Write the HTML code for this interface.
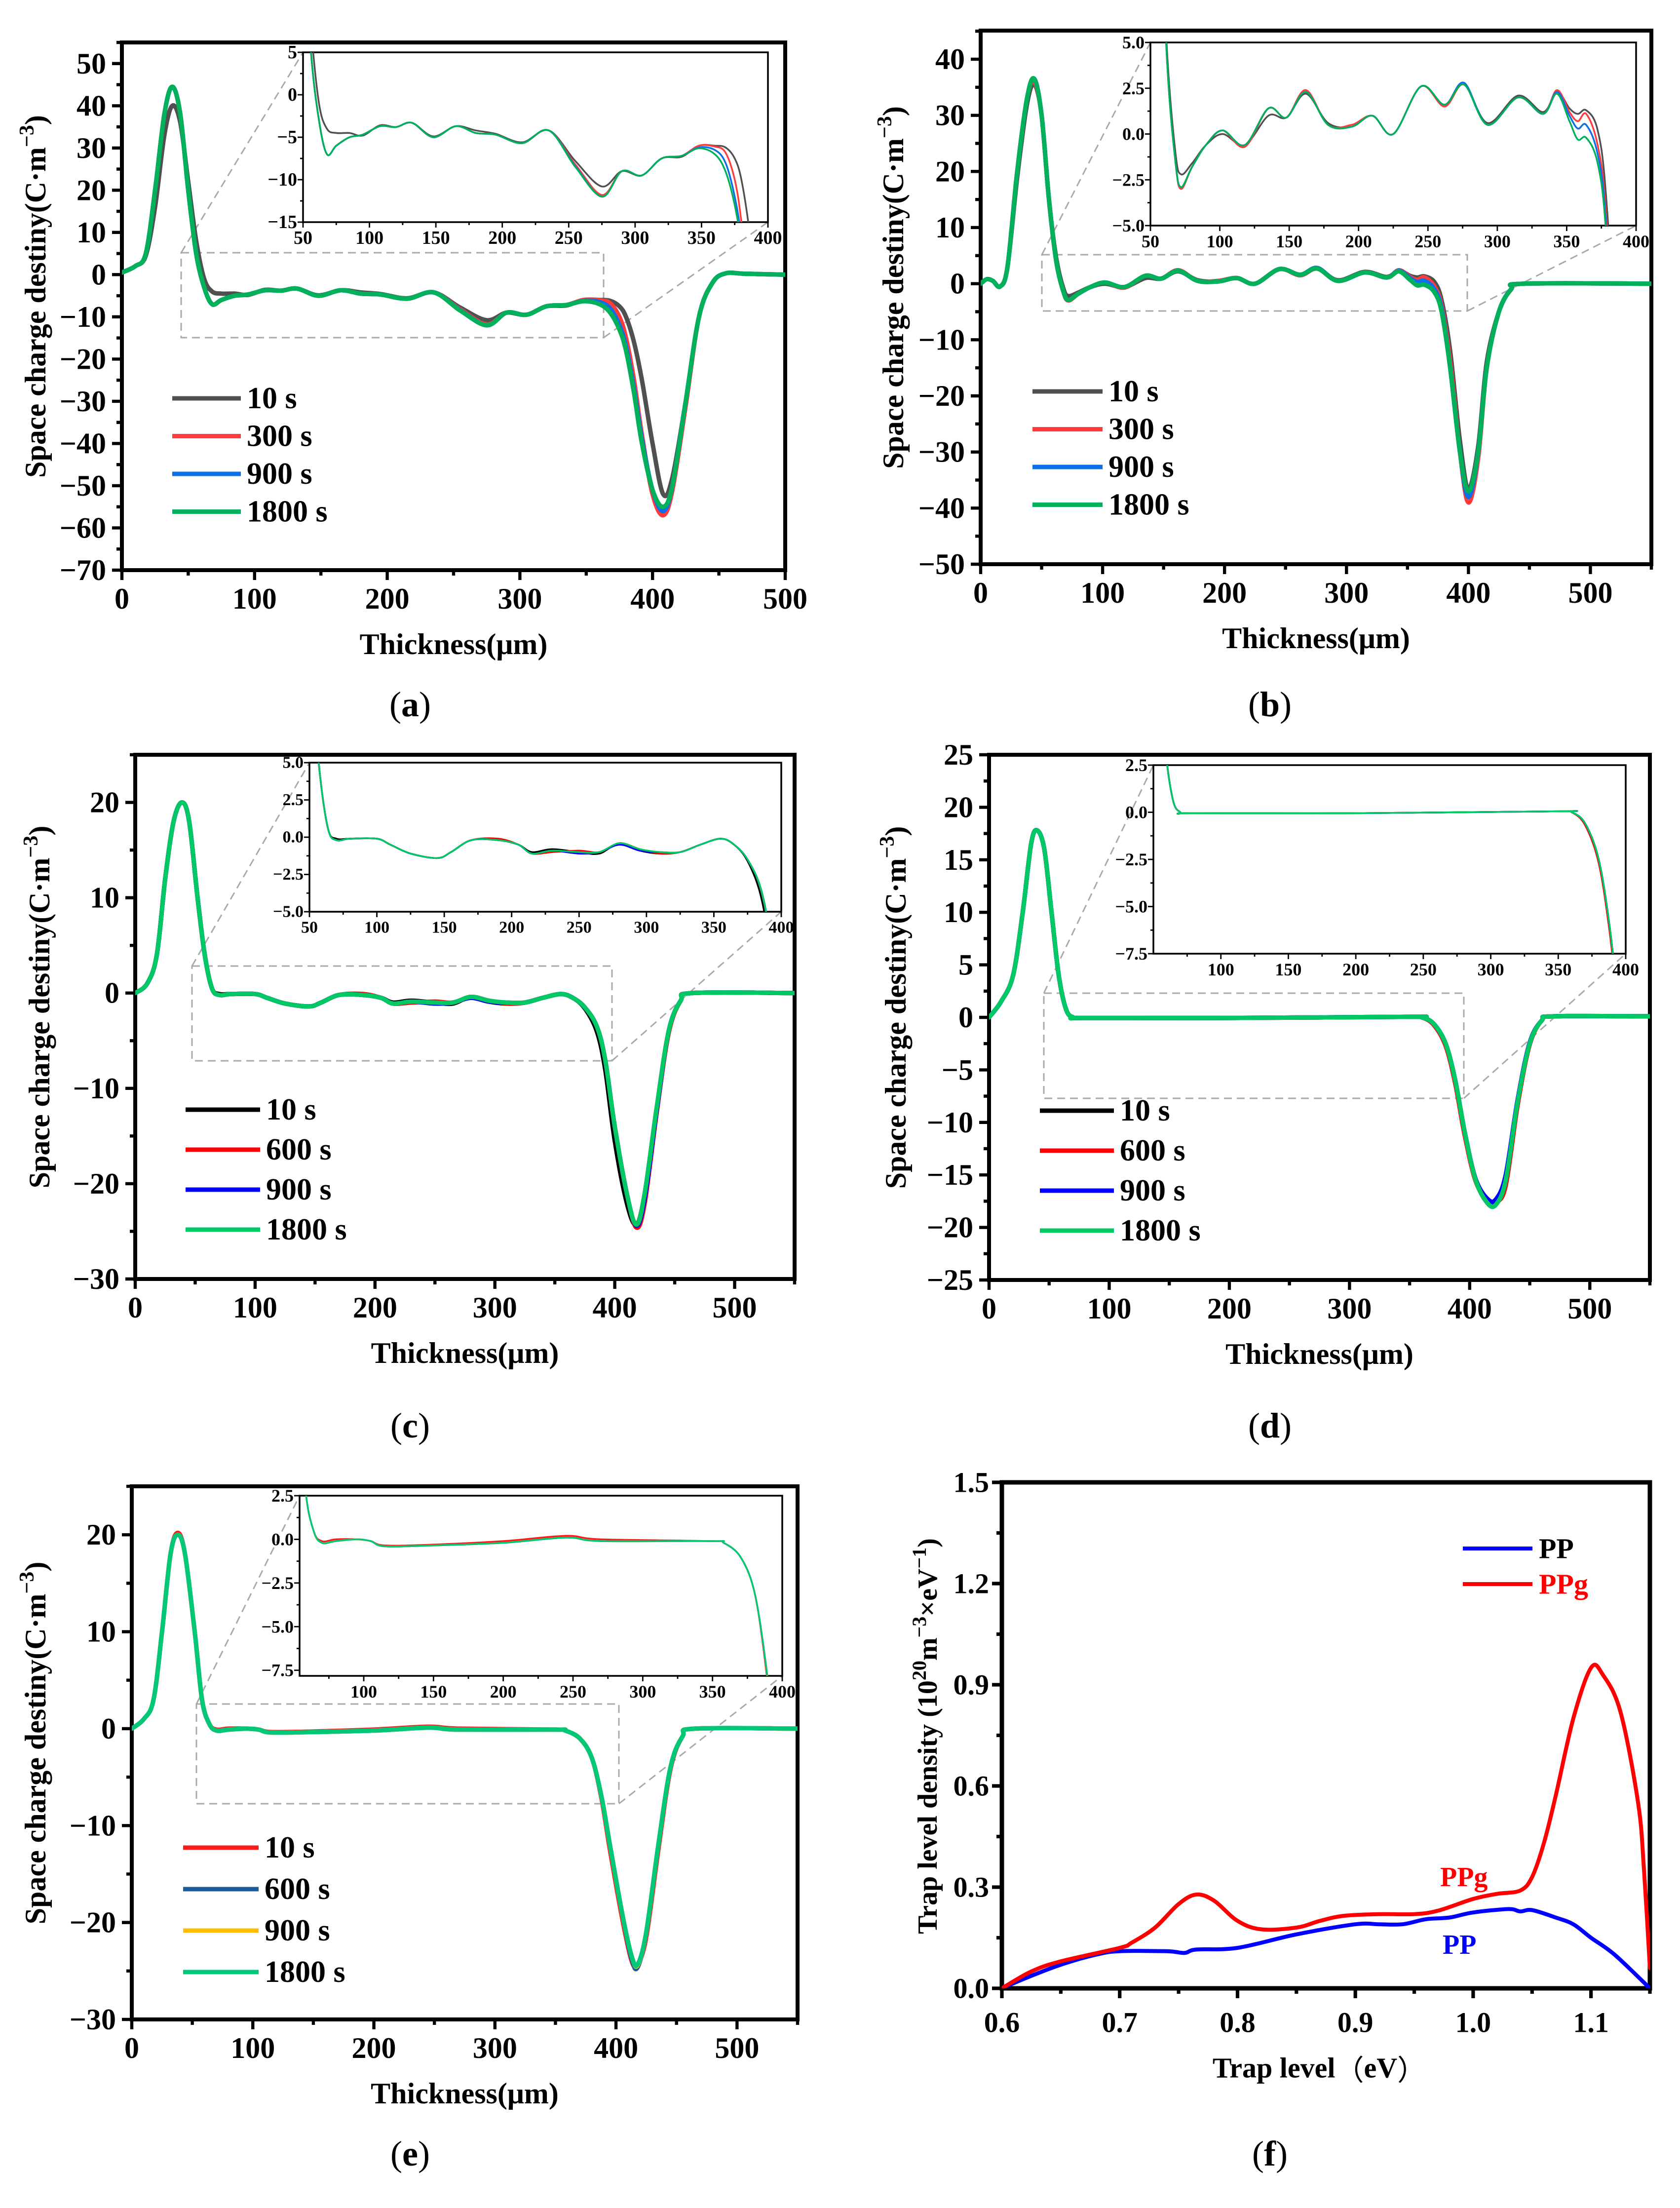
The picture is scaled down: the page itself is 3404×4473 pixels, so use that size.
<!DOCTYPE html>
<html><head><meta charset="utf-8"><style>
html,body{margin:0;padding:0;background:#fff;}
svg{display:block;}
text{font-family:"Liberation Serif",serif;font-weight:bold;fill:#000;}
</style></head><body>
<svg id="fig" xmlns="http://www.w3.org/2000/svg" width="3404" height="4473" viewBox="0 0 3404 4473">
<rect x="0" y="0" width="3404" height="4473" fill="#fff"/>
</svg>
<script>
// ---------- DATA ----------
const xa = [0,10,18,25,32,38,44,50,56,62,68,75,85,95,108,120,132,148,165,180,195,215,235,255,275,290,305,320,335,348,360,368,375,380,386,392,400,408,415,425,435,445,455,470,500];
const a10 = [0.5,2,4.5,16,33,40,36,22,8,-1,-4,-4.5,-4.5,-4.8,-3.6,-3.8,-3.3,-4.9,-3.7,-4.2,-4.6,-5.6,-4.2,-7.8,-10.8,-9,-9.5,-7.5,-7.3,-6,-6,-6.2,-7.5,-10,-16,-25,-40,-52,-48,-30,-10,-2,0.3,0.2,0];
const a300 = [0.5,2,5,20,38,44.5,38,20,5,-3,-7,-6,-5,-4.7,-3.7,-3.8,-3.3,-5,-3.7,-4.5,-4.7,-5.7,-4.2,-8.2,-11.8,-9,-9.5,-7.5,-7.2,-6,-6.1,-6.8,-10,-15,-25,-38,-52,-57,-51,-31,-10,-2,0.3,0.2,0];
const a900 = [0.5,2,5,20,38,44.5,38,20,5,-3,-7,-6,-5,-4.7,-3.7,-3.8,-3.3,-5,-3.7,-4.5,-4.7,-5.7,-4.2,-8.4,-12,-9,-9.5,-7.5,-7.2,-6.2,-6.5,-8,-12,-17,-27,-39,-51,-56,-50,-30,-10,-2,0.3,0.2,0];
const a1800 = [0.5,2,5,20,38,44.5,38,20,5,-3,-7,-6,-5,-4.7,-3.7,-3.8,-3.3,-5,-3.7,-4.5,-4.7,-5.7,-4.2,-8.5,-12,-9,-9.5,-7.5,-7.2,-6.3,-7,-9,-13,-18,-28,-40,-51,-55,-50,-30,-10,-2,0.3,0.2,0];

const xb = [0,5,10,16,22,30,38,44,50,56,62,68,72,80,90,102,118,135,148,162,178,195,210,225,245,262,276,293,315,333,343,352,358,364,372,378,385,393,400,408,415,425,435,445,550];
const b10 = [0,0.8,0.5,-0.5,3,19,32,35.5,30,15,4.5,-1,-2.2,-1.6,-0.6,0,-0.6,1,0.9,2.2,0.6,0.4,1,0,2.6,1.6,2.7,0.6,2.1,1.2,2.3,1.4,1.1,1.3,0.3,-3,-12,-28,-36.5,-29,-14,-5,-1,0,0];
const b300 = [0,0.8,0.5,-0.5,3,20,33,36,30,15,4,-1.5,-3,-1.8,-0.6,0.2,-0.7,1.4,0.9,2.4,0.5,0.5,1,0,2.6,1.5,2.7,0.5,2,1.1,2.4,1.2,0.7,1.1,-0.5,-4,-14,-30,-39,-31,-15,-5,-1,0,0];
const b900 = [0,0.8,0.5,-0.5,3,20,33,36.5,30,15,4,-1.5,-2.9,-1.8,-0.6,0.2,-0.6,1.4,0.9,2.3,0.5,0.4,1,0,2.6,1.6,2.8,0.5,2,1.1,2.3,1,0.3,0.5,-1,-4.5,-15,-30,-38,-30,-15,-5,-1,0,0];
const b1800 = [0,0.8,0.5,-0.5,3,20,33,36.5,30,15,4,-1.5,-2.9,-1.8,-0.6,0.2,-0.6,1.4,0.9,2.3,0.5,0.4,1,0,2.6,1.6,2.7,0.5,2,1.1,2.2,0.7,-0.3,-0.2,-1.5,-5,-15,-30,-37,-30,-15,-5,-1,0,0];

const xc = [0,10,18,25,32,39,45,52,58,64,70,80,100,110,125,145,155,170,190,205,215,230,250,265,280,295,310,325,340,355,365,375,385,392,400,410,418,425,435,445,455,465,550];
const c10 = [0,1,4,12,18,20,18,10,4,0.5,-0.1,-0.1,-0.1,-0.5,-1.1,-1.4,-1,-0.2,-0.2,-0.5,-1,-0.8,-1,-1.1,-0.4,-0.9,-1.1,-1,-0.5,-0.1,-0.5,-1.6,-4,-8,-15.5,-22,-24.3,-21,-12,-4,-0.8,0,0];
const c600 = [0,1,4,12,18,20,18,10,4,0.5,-0.2,-0.1,-0.1,-0.5,-1.1,-1.4,-1,-0.2,-0.1,-0.5,-1.1,-1,-0.9,-1,-0.4,-0.8,-1.1,-1,-0.5,-0.1,-0.5,-1.5,-3.5,-7,-14,-21,-24.6,-22,-12.5,-4.2,-0.8,0,0];
const c900 = [0,1,4,12,18,20,18,10,4,0.5,-0.2,-0.1,-0.1,-0.5,-1.1,-1.4,-1,-0.2,-0.2,-0.5,-1.1,-0.9,-1.1,-1,-0.5,-0.9,-1,-1,-0.5,-0.1,-0.5,-1.5,-3.5,-7,-14,-21,-24.4,-21.5,-12.3,-4,-0.8,0,0];
const c1800 = [0,1,4,12,18,20,18,10,4,0.5,-0.2,-0.1,-0.1,-0.5,-1.1,-1.4,-1,-0.2,-0.2,-0.5,-1.1,-0.9,-1,-1,-0.4,-0.8,-1,-1,-0.5,-0.1,-0.5,-1.5,-3.5,-7,-14,-21,-24.3,-21,-12,-4,-0.8,0,0];

const xd = [0,10,20,28,35,40,46,52,58,64,70,80,200,350,360,370,380,388,396,405,415,422,430,440,450,460,470,550];
const d10 = [0,1.5,4,10,16.5,17.8,16,10,4,0.8,0,-0.05,-0.05,0.05,0,-0.6,-2.5,-6,-11,-15.5,-17.7,-17.8,-15.5,-8,-2.5,-0.3,0.1,0.1];
const d600 = [0,1.5,4,10,16.5,17.8,16,10,4,0.8,0,-0.05,-0.05,0.05,0,-0.7,-2.7,-6.3,-11.3,-15.6,-17.5,-17.6,-16,-8.3,-2.6,-0.3,0.1,0.1];
const d900 = [0,1.5,4,10,16.5,17.8,16,10,4,0.8,0,-0.05,-0.05,0.05,0,-0.6,-2.5,-6,-11,-15.4,-17.3,-17.3,-15,-7.8,-2.4,-0.3,0.1,0.1];
const d1800 = [0,1.5,4,10,16.5,17.8,16,10,4,0.8,0,-0.05,-0.05,0.05,0,-0.6,-2.5,-6,-11,-15.5,-17.7,-17.8,-15.5,-8,-2.5,-0.3,0.1,0.1];

const xe = [0,10,18,25,32,38,44,52,58,64,70,80,95,105,115,150,200,245,270,350,358,370,380,388,395,405,413,418,425,435,445,455,465,550];
const e10 = [0,1,3,10,18,20.2,18,10,3,0.5,-0.1,0,0,-0.1,-0.35,-0.3,-0.1,0.2,0,-0.1,-0.2,-1,-3,-7.2,-12.5,-19.5,-24,-24.3,-21.5,-12.5,-4.2,-0.8,0,0];
const e600 = [0,1,3,10,18,20,18,10,3,0.5,-0.2,-0.1,0,-0.1,-0.4,-0.35,-0.2,0.1,-0.1,-0.1,-0.2,-1,-3,-7,-12,-19,-23.8,-24.6,-21,-12,-4,-0.8,0,0];
const e900 = [0,1,3,10,18,20,18,10,3,0.5,-0.2,-0.1,0,-0.1,-0.4,-0.35,-0.2,0.1,-0.1,-0.1,-0.2,-1,-3,-7,-12,-19,-23.5,-24.4,-21,-12,-4,-0.8,0,0];
const e1800 = [0,1,3,10,18,20,18,10,3,0.5,-0.2,-0.1,0,-0.1,-0.4,-0.35,-0.2,0.1,-0.1,-0.1,-0.2,-1,-3,-7,-12,-19,-23.5,-24.3,-21,-12,-4,-0.8,0,0];

const fxPP = [0.6,0.62,0.65,0.68,0.7,0.74,0.755,0.765,0.8,0.85,0.9,0.92,0.94,0.96,0.98,1.0,1.03,1.04,1.05,1.07,1.085,1.1,1.12,1.15];
const fyPP = [0,0.03,0.07,0.1,0.11,0.11,0.105,0.115,0.12,0.16,0.19,0.19,0.19,0.205,0.21,0.225,0.235,0.228,0.232,0.21,0.19,0.15,0.1,0];
const fxPPg = [0.6,0.625,0.65,0.7,0.71,0.73,0.75,0.765,0.78,0.8,0.82,0.85,0.87,0.89,0.92,0.95,0.97,1.0,1.02,1.04,1.05,1.06,1.07,1.085,1.1,1.11,1.125,1.14,1.145,1.15];
const fyPPg = [0,0.05,0.08,0.12,0.135,0.18,0.25,0.278,0.26,0.2,0.175,0.18,0.2,0.215,0.22,0.22,0.23,0.265,0.28,0.29,0.33,0.43,0.57,0.8,0.95,0.93,0.82,0.55,0.35,0.06];

const legendAB = ["10 s","300 s","900 s","1800 s"];
const legendCDE = ["10 s","600 s","900 s","1800 s"];

// ---------- DRAWING ----------
const NS = "http://www.w3.org/2000/svg";
const svg = document.getElementById("fig");
function el(tag, attrs, parent){ const e=document.createElementNS(NS,tag); for(const k in attrs) e.setAttribute(k,attrs[k]); (parent||svg).appendChild(e); return e; }
function fmt(v,dec){ const s=Math.abs(v).toFixed(dec); return (v<0?"\u2212":"")+s; }
function crPath(pts){
  let d="M"+pts[0][0].toFixed(1)+","+pts[0][1].toFixed(1);
  for(let i=0;i<pts.length-1;i++){
    const p0=pts[i-1]||pts[i], p1=pts[i], p2=pts[i+1], p3=pts[i+2]||pts[i+1];
    const c1=[p1[0]+(p2[0]-p0[0])/6, p1[1]+(p2[1]-p0[1])/6];
    const c2=[p2[0]-(p3[0]-p1[0])/6, p2[1]-(p3[1]-p1[1])/6];
    d+="C"+c1[0].toFixed(1)+","+c1[1].toFixed(1)+" "+c2[0].toFixed(1)+","+c2[1].toFixed(1)+" "+p2[0].toFixed(1)+","+p2[1].toFixed(1);
  }
  return d;
}
let clipN=0;
function axes(g, box, xr, yr, xt, yt, opt){
  const sx=v=>box.l+(v-xr[0])/(xr[1]-xr[0])*(box.r-box.l);
  const sy=v=>box.b-(v-yr[0])/(yr[1]-yr[0])*(box.b-box.t);
  const r=el("rect",{x:box.l,y:box.t,width:box.r-box.l,height:box.b-box.t,fill:"none",stroke:"#000","stroke-width":opt.sw},g);
  
  
  xt.forEach(v=>{
    const x=sx(v);
    const t=el("line",{x1:x,y1:box.b,x2:x,y2:box.b+opt.tl,stroke:"#000","stroke-width":opt.sw*0.8},g);
    
    
    const tx=el("text",{x:x,y:box.b+opt.xlo,"font-size":opt.fs,"text-anchor":"middle","dominant-baseline":"central"},g);
    tx.textContent=opt.xLabel(v);
    
    
  });
  (opt.xminor||[]).forEach(v=>{
    const x=sx(v);
    const t=el("line",{x1:x,y1:box.b,x2:x,y2:box.b+opt.tl*0.55,stroke:"#000","stroke-width":opt.sw*0.8},g);
    
    
  });
  yt.forEach(v=>{
    const y=sy(v);
    const t=el("line",{x1:box.l,y1:y,x2:box.l-opt.tl,y2:y,stroke:"#000","stroke-width":opt.sw*0.8},g);
    
    
    const tx=el("text",{x:box.l-opt.ylo,y:y,"font-size":opt.fs,"text-anchor":"end","dominant-baseline":"central"},g);
    tx.textContent=opt.yLabel(v);
    
    
  });
  (opt.yminor||[]).forEach(v=>{
    const y=sy(v);
    const t=el("line",{x1:box.l,y1:y,x2:box.l-opt.tl*0.55,y2:y,stroke:"#000","stroke-width":opt.sw*0.8},g);
    
    
  });
  return {sx,sy};
}
function series(g, box, sc, xs, ys, color, w, name){
  const id="clip"+(clipN++);
  const cp=el("clipPath",{id:id},g);
  el("rect",{x:box.l,y:box.t,width:box.r-box.l,height:box.b-box.t},cp);
  const pts=xs.map((x,i)=>[sc.sx(x),sc.sy(ys[i])]);
  const p=el("path",{d:crPath(pts),fill:"none",stroke:color,"stroke-width":w,"stroke-linejoin":"round","stroke-linecap":"round","clip-path":"url(#"+id+")"},g);
  
  
}
function range(a,b,s){const r=[];for(let v=a;v<=b+1e-9;v+=s)r.push(+v.toFixed(4));return r;}

function chargePanel(P){
  const g=el("g",{});
  
  
  const sc=axes(g,P.box,P.xr,P.yr,range(0,500,100),P.yt,{sw:8,tl:20,fs:60,xlo:58,ylo:32,prefix:'main-',
    xLabel:v=>String(v),yLabel:v=>fmt(v,0),xminor:range(50,P.xr[1],100),yminor:P.ym});
  const D=P.dash, I=P.ibox;
  const dr=el("rect",{x:D[0],y:D[1],width:D[2]-D[0],height:D[3]-D[1],fill:"none",stroke:"#aaa","stroke-width":3,"stroke-dasharray":"16,10"},g);
  
  
  const c1=el("line",{x1:D[0],y1:D[1],x2:I.l,y2:I.t,stroke:"#aaa","stroke-width":3,"stroke-dasharray":"16,10"},g);
  
  
  const c2=el("line",{x1:D[2],y1:D[3],x2:I.r,y2:I.b,stroke:"#aaa","stroke-width":3,"stroke-dasharray":"16,10"},g);
  
  
  P.series.forEach((s,i)=>series(g,P.box,sc,P.xs,s,P.colors[i],9,'series-'+P.labels[i].replace(' ','')));
  const ig=el("g",{},g);
  
  
  el("rect",{x:I.l,y:I.t,width:I.r-I.l,height:I.b-I.t,fill:"#fff"},ig);
  const isc=axes(ig,I,P.ixr,P.iyr,P.ixt,P.iyt,{sw:3.5,tl:11,fs:P.ifs,xlo:32,ylo:12,prefix:'inset-',
    xLabel:v=>String(v),yLabel:P.iyLabel,xminor:P.ixm,yminor:P.iym});
  P.series.forEach((s,i)=>series(ig,I,isc,P.xs,s,P.colors[i],3.5,'inset-series-'+P.labels[i].replace(' ','')));
  P.labels.forEach((lab,i)=>{
    const y=P.leg[2]+i*P.leg[3];
    const l=el("line",{x1:P.leg[0],y1:y,x2:P.leg[1],y2:y,stroke:P.colors[i],"stroke-width":9},g);
    
    
    const t=el("text",{x:P.leg[1]+12,y:y,"font-size":62,"dominant-baseline":"central"},g);
    t.textContent=lab;
    
    
  });
  const b=P.box;
  const yt=el("text",{x:0,y:0,"font-size":60,"text-anchor":"middle","transform":"translate("+P.ytx+","+((b.t+b.b)/2-20)+") rotate(-90)"},g);
  yt.innerHTML='Space charge destiny(C·m<tspan dy="-24" font-size="42">\u22123</tspan><tspan dy="24">)</tspan>';
  
  
  const xt=el("text",{x:(b.l+b.r)/2,y:b.b+150,"font-size":60,"text-anchor":"middle","dominant-baseline":"central"},g);
  xt.textContent="Thickness(\u03bcm)";
  
  
  const pl=el("text",{x:P.lab[0],y:P.lab[1],"font-size":72,"text-anchor":"middle","dominant-baseline":"central"},g);
  pl.innerHTML='<tspan font-weight="normal">(</tspan>'+P.id+'<tspan font-weight="normal">)</tspan>';
  
  
}
const colAB=["#505050","#ff3b3b","#0a6fe8","#00b05a"];
const colCD=["#000000","#ff0000","#0000ff","#00c864"];
const colE=["#ff1a1a","#1a5c9c","#ffc000","#00c878"];
const lab1=v=>fmt(v,0), lab2=v=>fmt(v,1);

chargePanel({id:'a',box:{l:247,r:1591,t:86,b:1155},xr:[0,500],yr:[-70,55],yt:range(-70,50,10),ym:range(-65,55,10),
  dash:[367,512,1223,684],ibox:{l:614,r:1556,t:106,b:450},ixr:[50,400],iyr:[-15,5],ixt:range(50,400,50),iyt:[5,0,-5,-10,-15],ixm:range(75,375,50),iym:range(-12.5,2.5,5),ifs:38,iyLabel:lab1,
  xs:xa,series:[a10,a300,a900,a1800],colors:colAB,labels:legendAB,leg:[349,488,807,76.5],ytx:92,lab:[831,1427]});
chargePanel({id:'b',box:{l:1987,r:3346,t:62,b:1143},xr:[0,550],yr:[-50,45.1],yt:range(-50,40,10),ym:range(-45,45,10),
  dash:[2111,516,2973,630],ibox:{l:2331,r:3315,t:86,b:457},ixr:[50,400],iyr:[-5,5],ixt:range(50,400,50),iyt:[5,2.5,0,-2.5,-5],ixm:range(75,375,50),iym:range(-3.75,3.75,2.5),ifs:36,iyLabel:lab2,
  xs:xb,series:[b10,b300,b900,b1800],colors:colAB,labels:legendAB,leg:[2092,2234,793,76.5],ytx:1830,lab:[2573,1427]});
chargePanel({id:'c',box:{l:274,r:1610,t:1529,b:2591},xr:[0,550],yr:[-30,25],yt:range(-30,20,10),ym:range(-25,25,10),
  dash:[389,1957,1240,2149],ibox:{l:627,r:1583,t:1545,b:1847},ixr:[50,400],iyr:[-5,5],ixt:range(50,400,50),iyt:[5,2.5,0,-2.5,-5],ixm:range(75,375,50),iym:range(-3.75,3.75,2.5),ifs:34,iyLabel:lab2,
  xs:xc,series:[c10,c600,c900,c1800],colors:colCD,labels:legendCDE,leg:[376,527,2248,81],ytx:100,lab:[831,2888]});
chargePanel({id:'d',box:{l:2004,r:3343,t:1529,b:2593},xr:[0,550],yr:[-25,25],yt:range(-25,25,5),ym:range(-22.5,22.5,5),
  dash:[2115,2012,2966,2225],ibox:{l:2337,r:3294,t:1550,b:1932},ixr:[50,400],iyr:[-7.5,2.5],ixt:range(100,400,50),iyt:[2.5,0,-2.5,-5,-7.5],ixm:range(75,375,50),iym:range(-6.25,1.25,2.5),ifs:36,iyLabel:lab2,
  xs:xd,series:[d10,d600,d900,d1800],colors:colCD,labels:legendCDE,leg:[2107,2257,2250,81],ytx:1835,lab:[2573,2888]});
chargePanel({id:'e',box:{l:267,r:1616,t:3011,b:4091},xr:[0,550],yr:[-30,25],yt:range(-30,20,10),ym:range(-25,25,10),
  dash:[398,3452,1254,3654],ibox:{l:607,r:1585,t:3030,b:3395},ixr:[54,400],iyr:[-7.82,2.5],ixt:range(100,400,50),iyt:[2.5,0,-2.5,-5,-7.5],ixm:range(75,375,50),iym:range(-6.25,1.25,2.5),ifs:36,iyLabel:lab2,
  xs:xe,series:[e10,e600,e900,e1800],colors:colE,labels:legendCDE,leg:[371,524,3743,84],ytx:92,lab:[831,4363]});

// panel f
(function(){
  const g=el("g",{});
  
  
  const box={l:2030,r:3343,t:3003,b:4028};
  const sc=axes(g,box,[0.6,1.15],[0,1.5],range(0.6,1.1,0.1),range(0,1.5,0.3),{sw:9,tl:20,fs:58,xlo:69,ylo:26,prefix:'f-',
    xLabel:v=>v.toFixed(1),yLabel:v=>v.toFixed(1),xminor:range(0.65,1.15,0.1),yminor:range(0.15,1.35,0.3)});
  series(g,box,sc,fxPP,fyPP,"#0000ff",8,'series-PP');
  series(g,box,sc,fxPPg,fyPPg,"#ff0000",8,'series-PPg');
  [["PP","#0000ff",3137],["PPg","#ff0000",3209]].forEach(d=>{
    const l=el("line",{x1:2964,y1:d[2],x2:3105,y2:d[2],stroke:d[1],"stroke-width":8},g);
    
    
    const t=el("text",{x:3118,y:d[2],"font-size":58,"dominant-baseline":"central",style:"fill:"+(d[0]==="PP"?"#000":"#ff0000")},g);
    t.textContent=d[0];
    
    
  });
  const a1=el("text",{x:2918,y:3803,"font-size":56,"dominant-baseline":"central",style:"fill:#ff0000"},g);
  a1.textContent="PPg";
  
  
  const a2=el("text",{x:2923,y:3940,"font-size":56,"dominant-baseline":"central",style:"fill:#0000ff"},g);
  a2.textContent="PP";
  
  
  const yt=el("text",{x:0,y:0,"font-size":56,"text-anchor":"middle","transform":"translate(1898,3517) rotate(-90)"},g);
  yt.innerHTML='Trap level density (10<tspan dy="-22" font-size="40">20</tspan><tspan dy="22">m</tspan><tspan dy="-22" font-size="40">\u22123</tspan><tspan dy="22">×eV</tspan><tspan dy="-22" font-size="40">\u22121</tspan><tspan dy="22">)</tspan>';
  
  
  const xt=el("text",{x:2673,y:4189,"font-size":58,"text-anchor":"middle","dominant-baseline":"central"},g);
  xt.innerHTML='Trap level<tspan font-family="Noto Sans CJK SC, sans-serif" font-weight="normal">（</tspan>eV<tspan font-family="Noto Sans CJK SC, sans-serif" font-weight="normal">）</tspan>';
  
  
  const pl=el("text",{x:2573,y:4363,"font-size":72,"text-anchor":"middle","dominant-baseline":"central"},g);
  pl.innerHTML='<tspan font-weight="normal">(</tspan>f<tspan font-weight="normal">)</tspan>';
  
  
})();
</script>
</body></html>
